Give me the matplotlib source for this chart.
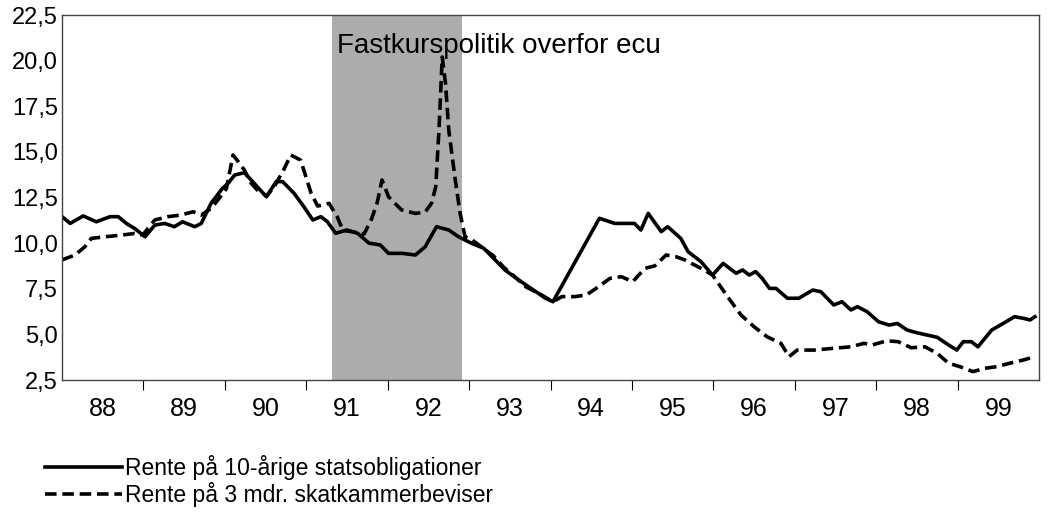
import matplotlib.pyplot as plt
from matplotlib.lines import Line2D
from matplotlib.ticker import FuncFormatter

plt.rcParams['font.family'] = ['Liberation Sans', 'DejaVu Sans']

# 10-year government bond yield (decimal year, percent)
years_10y = [1988.0, 1988.1, 1988.26, 1988.42, 1988.59, 1988.69, 1988.79, 1988.89,
             1989.02, 1989.14, 1989.26, 1989.38, 1989.48, 1989.63, 1989.71, 1989.83,
             1989.97, 1990.04, 1990.12, 1990.24, 1990.36, 1990.51, 1990.63, 1990.71,
             1990.85, 1990.97, 1991.08, 1991.18, 1991.26, 1991.36, 1991.5, 1991.63,
             1991.77, 1991.91, 1992.01, 1992.18, 1992.34, 1992.46, 1992.6, 1992.75,
             1992.87, 1993.03, 1993.18, 1993.32, 1993.44, 1993.61, 1993.73, 1993.85,
             1993.93, 1994.03, 1994.6, 1994.79, 1994.95, 1995.03, 1995.11, 1995.2,
             1995.36, 1995.44, 1995.6, 1995.69, 1995.85, 1995.99, 1996.12, 1996.28,
             1996.36, 1996.44, 1996.52, 1996.6, 1996.69, 1996.77, 1996.91, 1997.05,
             1997.22, 1997.32, 1997.48, 1997.58, 1997.69, 1997.77, 1997.89, 1998.03,
             1998.16, 1998.26, 1998.38, 1998.5, 1998.62, 1998.75, 1998.89, 1998.99,
             1999.07, 1999.17, 1999.25, 1999.42, 1999.56, 1999.7, 1999.81, 1999.89,
             1999.95]
rate_10y = [11.45, 11.08, 11.49, 11.17, 11.45, 11.45, 11.08, 10.81,
            10.35, 10.99, 11.08, 10.9, 11.17, 10.9, 11.08, 12.18,
            13.0, 13.28, 13.73, 13.86, 13.28, 12.54, 13.37, 13.37,
            12.73, 12.0, 11.27, 11.45, 11.17, 10.54, 10.72, 10.54,
            10.0, 9.9, 9.44, 9.44, 9.35, 9.8, 10.9, 10.72,
            10.35, 9.99, 9.72, 9.08, 8.53, 7.98, 7.61, 7.25,
            7.0, 6.79, 11.36, 11.08, 11.08, 11.08, 10.72, 11.63,
            10.63, 10.9, 10.26, 9.53, 8.98, 8.25, 8.89, 8.35,
            8.53, 8.25, 8.44, 8.07, 7.52, 7.52, 6.98, 6.98,
            7.43, 7.34, 6.61, 6.79, 6.34, 6.52, 6.24, 5.69,
            5.51, 5.6, 5.24, 5.09, 4.97, 4.84, 4.42, 4.14,
            4.6, 4.6, 4.32, 5.24, 5.6, 5.97, 5.88, 5.79,
            5.97]

# 3-month treasury bill rate
years_3m = [1988.0, 1988.16, 1988.28, 1988.36, 1988.53, 1988.73, 1988.89, 1988.99,
            1989.14, 1989.3, 1989.46, 1989.61, 1989.71, 1989.83, 1989.93, 1990.02,
            1990.1, 1990.15, 1990.24, 1990.32, 1990.42, 1990.52, 1990.62, 1990.72,
            1990.81, 1990.93, 1991.06, 1991.14, 1991.28, 1991.38, 1991.45, 1991.6,
            1991.71, 1991.8, 1991.87, 1991.93, 1992.01, 1992.17, 1992.34, 1992.46,
            1992.54, 1992.59, 1992.63, 1992.67, 1992.71, 1992.75, 1992.83, 1992.89,
            1992.95, 1993.03, 1993.18, 1993.3, 1993.42, 1993.55, 1993.7, 1993.89,
            1994.03, 1994.14, 1994.3, 1994.44, 1994.59, 1994.73, 1994.87, 1995.01,
            1995.16, 1995.28, 1995.42, 1995.54, 1995.65, 1995.77, 1995.9, 1995.99,
            1996.09, 1996.22, 1996.34, 1996.5, 1996.66, 1996.83, 1996.93, 1997.03,
            1997.24, 1997.48, 1997.69, 1997.85, 1997.95, 1998.13, 1998.27, 1998.43,
            1998.6, 1998.75, 1998.89, 1999.03, 1999.19, 1999.33, 1999.48, 1999.64,
            1999.81, 1999.95]
rate_3m = [9.08, 9.35, 9.8, 10.26, 10.35, 10.44, 10.53, 10.44,
           11.27, 11.45, 11.54, 11.72, 11.54, 11.9, 12.45, 13.0,
           14.83, 14.55, 14.0, 13.3, 12.8, 12.6, 13.2, 14.0,
           14.83, 14.55, 12.73, 12.03, 12.18, 11.45, 10.7, 10.6,
           10.5, 11.3, 12.2, 13.46, 12.54, 11.82, 11.63, 11.7,
           12.2, 13.09, 16.2, 20.2, 18.76, 16.2, 13.46, 11.63,
           10.35, 10.2, 9.7, 9.3, 8.7, 8.2, 7.6, 7.16,
           6.79, 7.07, 7.07, 7.16, 7.61, 8.07, 8.16, 7.89,
           8.62, 8.75, 9.35, 9.26, 9.08, 8.8, 8.5, 8.25,
           7.61, 6.79, 6.06, 5.42, 4.87, 4.51, 3.78, 4.14,
           4.14, 4.24, 4.32, 4.51, 4.42, 4.65, 4.6, 4.27,
           4.32, 3.96, 3.42, 3.23, 2.96, 3.14, 3.23, 3.42,
           3.6, 3.78]

peg_start, peg_end = 1991.32, 1992.91
peg_label = "Fastkurspolitik overfor ecu"
year_labels = ["88", "89", "90", "91", "92", "93", "94", "95", "96", "97", "98", "99"]
legend_labels = ["Rente på 10-årige statsobligationer", "Rente på 3 mdr. skatkammerbeviser"]

dash = (0, (3.2, 1.6))

fig = plt.figure(figsize=(10.48, 5.21), dpi=100)
ax = fig.add_axes([0.0592, 0.2706, 0.9322, 0.7006])

ax.axvspan(peg_start, peg_end, color="#acacac", lw=0, zorder=0)
ax.plot(years_10y, rate_10y, color="black", lw=2.6, solid_joinstyle="round")
ax.plot(years_3m, rate_3m, color="black", lw=2.6, linestyle=dash)

ax.text(1991.38, 20.42, peg_label, fontsize=20, va="baseline", ha="left")

ax.set_xlim(1988, 2000)
ax.set_ylim(2.5, 22.5)
ax.set_yticks([2.5 + 2.5 * i for i in range(9)])
ax.yaxis.set_major_formatter(FuncFormatter(lambda v, p: f"{v:.1f}".replace(".", ",")))
ax.tick_params(axis="y", length=0, pad=3, labelsize=17)

ax.set_xticks(list(range(1989, 2000)))
ax.set_xticklabels([])
ax.set_xticks([1988.5 + i for i in range(12)], minor=True)
ax.set_xticklabels(year_labels, minor=True)
ax.tick_params(axis="x", which="major", length=7, width=0.8, direction="out")
ax.tick_params(axis="x", which="minor", length=0, pad=12, labelsize=18)

for s in ax.spines.values():
    s.set_linewidth(1.0)
    s.set_color("#444444")

# legend drawn below the axes
legend_y = [0.1036, 0.0518]
legend_styles = ["-", dash]
for y, label, ls in zip(legend_y, legend_labels, legend_styles):
    fig.add_artist(Line2D([0.043, 0.116], [y, y], transform=fig.transFigure,
                          color="black", lw=2.6, linestyle=ls))
    fig.text(0.119, y, label, fontsize=16.5, va="center", ha="left")

fig.savefig("out.png", dpi=100)
